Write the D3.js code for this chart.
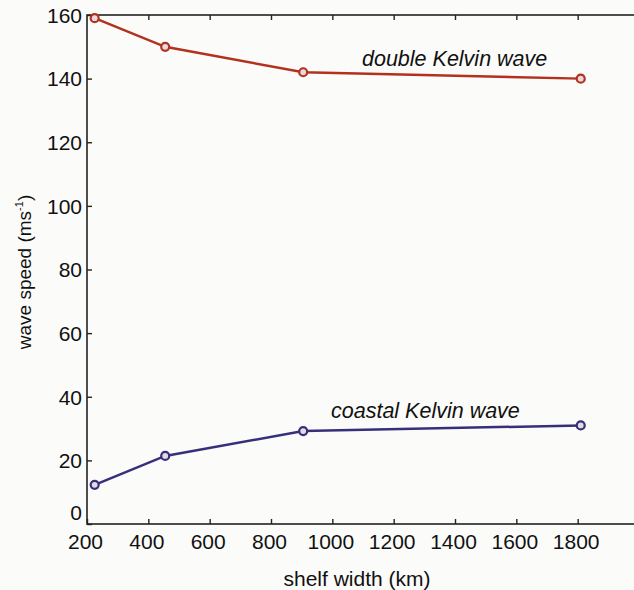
<!DOCTYPE html>
<html>
<head>
<meta charset="utf-8">
<script src="https://cdn.jsdelivr.net/npm/d3@7"></script>
<style>
  body { margin: 0; background: #fbfbf9; }
  svg { display: block; font-family: "Liberation Sans", Arial, sans-serif; }
</style>
</head>
<body>
<svg id="chart" width="634" height="590"></svg>
<script>
// shelf widths (km)
const shelfWidth = [225, 455, 905, 1810];
// wave speeds (m/s)
const doubleKelvin = [159, 150, 142, 140];
const coastalKelvin = [12.3, 21.4, 29.2, 31];
const xTicks = [200, 400, 600, 800, 1000, 1200, 1400, 1600, 1800];
const yTicks = [0, 20, 40, 60, 80, 100, 120, 140, 160];

const svg = d3.select("#chart");
const x = d3.scaleLinear().domain([200, 2000]).range([87, 639]);
const y = d3.scaleLinear().domain([0, 160]).range([524, 15]);

// frame
svg.append("rect")
    .attr("x", x(200)).attr("y", y(160))
    .attr("width", x(2000) - x(200)).attr("height", y(0) - y(160))
    .attr("fill", "none").attr("stroke", "#222").attr("stroke-width", 1.6);

// axes
const xAxis = svg.append("g")
    .attr("transform", `translate(0,${y(0)})`)
    .call(d3.axisBottom(x).tickValues(xTicks).tickFormat(d3.format("d"))
        .tickSizeInner(-5).tickSizeOuter(0).tickPadding(10));
const xTop = svg.append("g")
    .attr("transform", `translate(0,${y(160)})`)
    .call(d3.axisTop(x).tickValues(xTicks.slice(1)).tickSizeInner(-5).tickSizeOuter(0).tickFormat(""));
const yAxis = svg.append("g")
    .attr("transform", `translate(${x(200)},0)`)
    .call(d3.axisLeft(y).tickValues(yTicks).tickSizeInner(-5).tickSizeOuter(0).tickPadding(5));

[xAxis, xTop, yAxis].forEach(g => {
    g.select(".domain").remove();
    g.selectAll("line").attr("stroke", "#222").attr("stroke-width", 1.4);
    g.selectAll("text").attr("fill", "#111").style("font-size", "21px")
        .style("font-family", "'Liberation Sans', Arial, sans-serif");
});
yAxis.selectAll("text").attr("dy", "0.35em");
// the zero label sits a little above its tick
yAxis.selectAll("text").filter(d => d === 0).attr("dy", "-0.2em");
xAxis.selectAll("text").attr("dx", "-2");

// axis titles
svg.append("text")
    .attr("x", 357).attr("y", 586)
    .attr("text-anchor", "middle")
    .attr("fill", "#111")
    .style("font-size", "21px")
    .text("shelf width (km)");

const yl = svg.append("text")
    .attr("transform", `translate(31,${272}) rotate(-90)`)
    .attr("text-anchor", "middle")
    .attr("fill", "#111")
    .style("font-size", "19px");
yl.append("tspan").text("wave speed (ms");
yl.append("tspan").attr("dy", "-8").style("font-size", "11px").text("-1");
yl.append("tspan").attr("dy", "8").text(")");

// series
const series = [
    { values: doubleKelvin, color: "#b3321f", name: "double Kelvin wave", lx: 362, ly: 66 },
    { values: coastalKelvin, color: "#36307a", name: "coastal Kelvin wave", lx: 331, ly: 418 }
];

const line = d3.line().x(d => x(d[0])).y(d => y(d[1]));

series.forEach(s => {
    const pts = shelfWidth.map((w, i) => [w, s.values[i]]);
    svg.append("path")
        .datum(pts)
        .attr("d", line)
        .attr("fill", "none")
        .attr("stroke", s.color)
        .attr("stroke-width", 2.5);
    svg.selectAll(null)
        .data(pts)
        .join("circle")
        .attr("cx", d => x(d[0]))
        .attr("cy", d => y(d[1]))
        .attr("r", 4)
        .attr("fill", "#e8d8e0")
        .attr("stroke", s.color)
        .attr("stroke-width", 2.2);
    svg.append("text")
        .attr("x", s.lx).attr("y", s.ly)
        .attr("fill", "#111")
        .style("font-size", "21.5px")
        .style("font-style", "italic")
        .text(s.name);
});
</script>
</body>
</html>
